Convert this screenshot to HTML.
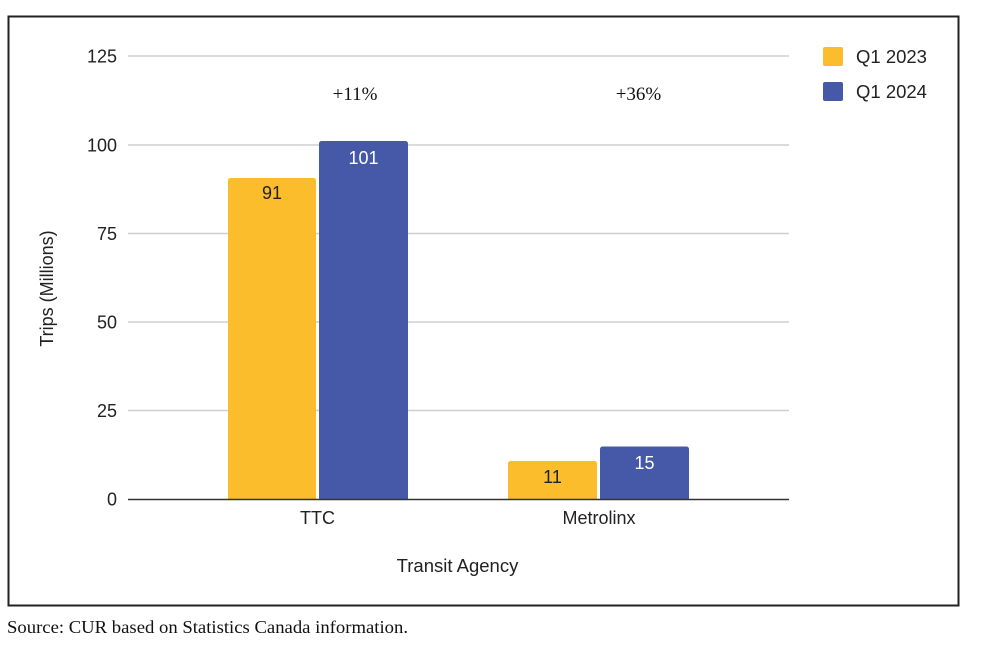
<!DOCTYPE html>
<html><head><meta charset="utf-8"><style>
html,body{margin:0;padding:0;background:#fff;}
svg{display:block;}
</style></head><body>
<svg width="983" height="650" viewBox="0 0 983 650" xmlns="http://www.w3.org/2000/svg">
<rect x="0" y="0" width="983" height="650" fill="#fff"/>
<rect x="8.5" y="16.5" width="950" height="589" fill="none" stroke="#222" stroke-width="2"/>
<g stroke="#cfcfcf" stroke-width="1.5">
<line x1="128" y1="56" x2="789" y2="56"/>
<line x1="128" y1="145" x2="789" y2="145"/>
<line x1="128" y1="233.5" x2="789" y2="233.5"/>
<line x1="128" y1="322" x2="789" y2="322"/>
<line x1="128" y1="410.5" x2="789" y2="410.5"/>
</g>
<g font-family="Liberation Sans, Arial, sans-serif" font-size="18" fill="#222" text-anchor="end">
<text x="117" y="62.5">125</text>
<text x="117" y="151.5">100</text>
<text x="117" y="240">75</text>
<text x="117" y="328.5">50</text>
<text x="117" y="417">25</text>
<text x="117" y="505.5">0</text>
</g>
<!-- bars -->
<path d="M228,499 V180.5 a2.5,2.5 0 0 1 2.5,-2.5 H313.5 a2.5,2.5 0 0 1 2.5,2.5 V499 Z" fill="#FBBD2C"/>
<path d="M319,499 V143.5 a2.5,2.5 0 0 1 2.5,-2.5 H405.5 a2.5,2.5 0 0 1 2.5,2.5 V499 Z" fill="#4559A8"/>
<path d="M508,499 V463.5 a2.5,2.5 0 0 1 2.5,-2.5 H594.5 a2.5,2.5 0 0 1 2.5,2.5 V499 Z" fill="#FBBD2C"/>
<path d="M600,499 V449 a2.5,2.5 0 0 1 2.5,-2.5 H686.5 a2.5,2.5 0 0 1 2.5,2.5 V499 Z" fill="#4559A8"/>
<line x1="128" y1="499.5" x2="789" y2="499.5" stroke="#333" stroke-width="1.5"/>
<g font-family="Liberation Sans, Arial, sans-serif" font-size="18" text-anchor="middle">
<text x="272" y="199" fill="#222">91</text>
<text x="363.5" y="164" fill="#fff">101</text>
<text x="552.5" y="483" fill="#222">11</text>
<text x="644.5" y="469" fill="#fff">15</text>
<text x="317.5" y="524" fill="#222">TTC</text>
<text x="599" y="524" fill="#222">Metrolinx</text>
<text x="457.5" y="572" fill="#222" font-size="18.5">Transit Agency</text>
</g>
<text x="0" y="0" transform="translate(53,288.5) rotate(-90)" font-family="Liberation Sans, Arial, sans-serif" font-size="18" fill="#222" text-anchor="middle">Trips (Millions)</text>
<g font-family="Liberation Serif, 'Times New Roman', serif" font-size="19" fill="#111" text-anchor="middle">
<text x="355" y="100">+11%</text>
<text x="638.5" y="100">+36%</text>
</g>
<!-- legend -->
<rect x="823" y="47" width="20" height="19" rx="2" fill="#FBBD2C"/>
<rect x="823" y="82" width="20" height="19" rx="2" fill="#4559A8"/>
<g font-family="Liberation Sans, Arial, sans-serif" font-size="18.5" fill="#222">
<text x="856" y="63">Q1 2023</text>
<text x="856" y="98">Q1 2024</text>
</g>
<text x="7" y="633" font-family="Liberation Serif, 'Times New Roman', serif" font-size="18" fill="#111" textLength="401" lengthAdjust="spacingAndGlyphs">Source: CUR based on Statistics Canada information.</text>
</svg>
</body></html>
